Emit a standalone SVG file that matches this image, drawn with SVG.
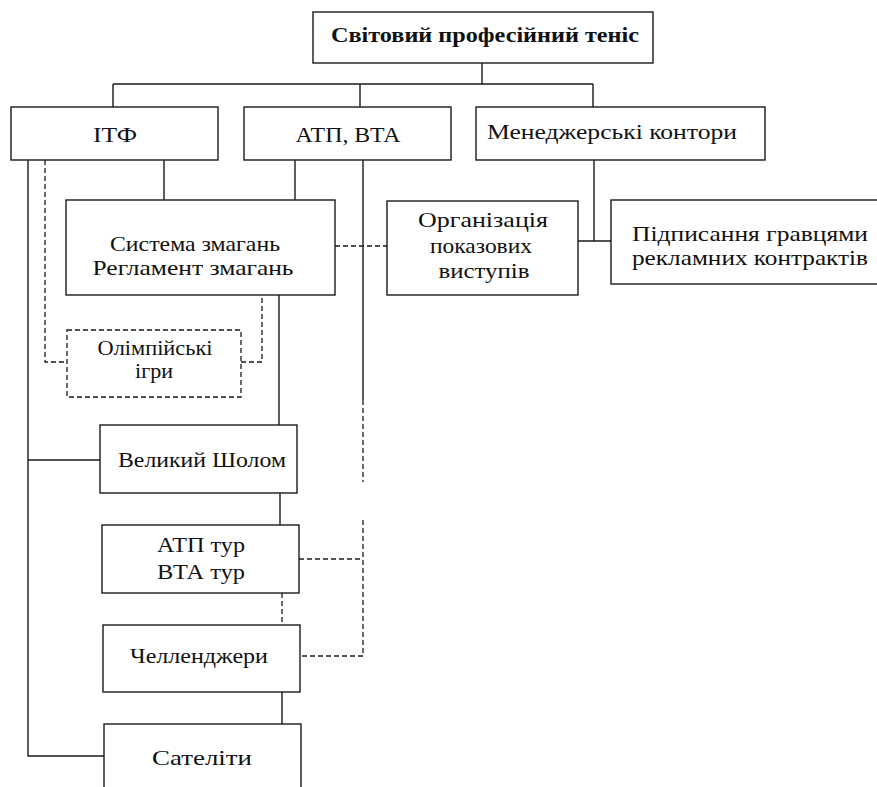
<svg xmlns="http://www.w3.org/2000/svg" width="877" height="787" viewBox="0 0 877 787">
<style>
.bg{fill:#fff}
.box{fill:#fff;stroke:#1a1a1a;stroke-width:1.4}
.dbox{fill:#fff;stroke:#1a1a1a;stroke-width:1.3;stroke-dasharray:5 3}
.ln{fill:none;stroke:#1a1a1a;stroke-width:1.4}
.dl{fill:none;stroke:#1a1a1a;stroke-width:1.3;stroke-dasharray:5 3}
text{font-family:"Liberation Serif","Times New Roman",serif;font-size:21px;fill:#111;text-anchor:middle}
.title{font-weight:bold;font-size:22px}
</style>
<rect class="bg" x="0" y="0" width="877" height="787"/>
<g id="connectors">
<path class="ln" d="M482,63 V84 M113,84 H593 M113,84 V107 M360,84 V107 M593,84 V107"/>
<path class="ln" d="M28,160 V756 H104 M28,460 H100"/>
<path class="dl" d="M45,160 V362 H67"/>
<path class="ln" d="M164,160 V200 M295,160 V200"/>
<path class="ln" d="M363,160 V400"/>
<path class="dl" d="M363,400 V482 M363,520 V656 H300 M299,559 H363"/>
<path class="dl" d="M335,246 H387"/>
<path class="ln" d="M578,241 H611 M594,160 V241"/>
<path class="dl" d="M241,362 H262 V295"/>
<path class="ln" d="M279,295 V425 M280,493 V525 M282,692 V724"/>
<path class="dl" d="M282,593 V625"/>
</g>
<g id="n-title"><rect class="box" x="313" y="12" width="340" height="51"/><text class="title" x="485" y="42" textLength="308" lengthAdjust="spacingAndGlyphs">Світовий професійний теніс</text></g>
<g id="n-itf"><rect class="box" x="11" y="107" width="207" height="53"/><text x="115" y="142" textLength="44" lengthAdjust="spacingAndGlyphs">ІТФ</text></g>
<g id="n-atp"><rect class="box" x="244" y="107" width="207" height="53"/><text x="348" y="142" textLength="105" lengthAdjust="spacingAndGlyphs">АТП, ВТА</text></g>
<g id="n-mgr"><rect class="box" x="476" y="107" width="289" height="53"/><text x="612" y="139" textLength="250" lengthAdjust="spacingAndGlyphs">Менеджерські контори</text></g>
<g id="n-system"><rect class="box" x="66" y="200" width="269" height="95"/><text x="195" y="251" textLength="170" lengthAdjust="spacingAndGlyphs">Система змагань</text><text x="193" y="275" textLength="201" lengthAdjust="spacingAndGlyphs">Регламент змагань</text></g>
<g id="n-org"><rect class="box" x="387" y="201" width="191" height="94"/><text x="483" y="227" textLength="130" lengthAdjust="spacingAndGlyphs">Організація</text><text x="481" y="253" textLength="102" lengthAdjust="spacingAndGlyphs">показових</text><text x="484" y="278" textLength="91" lengthAdjust="spacingAndGlyphs">виступів</text></g>
<g id="n-sign"><rect class="box" x="611" y="200" width="280" height="84"/><text x="750" y="241" textLength="236" lengthAdjust="spacingAndGlyphs">Підписання гравцями</text><text x="750" y="265" textLength="236" lengthAdjust="spacingAndGlyphs">рекламних контрактів</text></g>
<g id="n-olymp"><rect class="dbox" x="67" y="330" width="174" height="67"/><text x="155" y="355" textLength="115" lengthAdjust="spacingAndGlyphs">Олімпійські</text><text x="154" y="378" textLength="38" lengthAdjust="spacingAndGlyphs">ігри</text></g>
<g id="n-gs"><rect class="box" x="100" y="425" width="197" height="68"/><text x="202" y="467" textLength="168" lengthAdjust="spacingAndGlyphs">Великий Шолом</text></g>
<g id="n-tour"><rect class="box" x="102" y="525" width="197" height="68"/><text x="201" y="552" textLength="88" lengthAdjust="spacingAndGlyphs">АТП тур</text><text x="201" y="579" textLength="88" lengthAdjust="spacingAndGlyphs">ВТА тур</text></g>
<g id="n-chal"><rect class="box" x="103" y="625" width="197" height="67"/><text x="199" y="663" textLength="138" lengthAdjust="spacingAndGlyphs">Челленджери</text></g>
<g id="n-sat"><rect class="box" x="104" y="724" width="197" height="70"/><text x="202" y="765" textLength="100" lengthAdjust="spacingAndGlyphs">Сателіти</text></g>
</svg>
